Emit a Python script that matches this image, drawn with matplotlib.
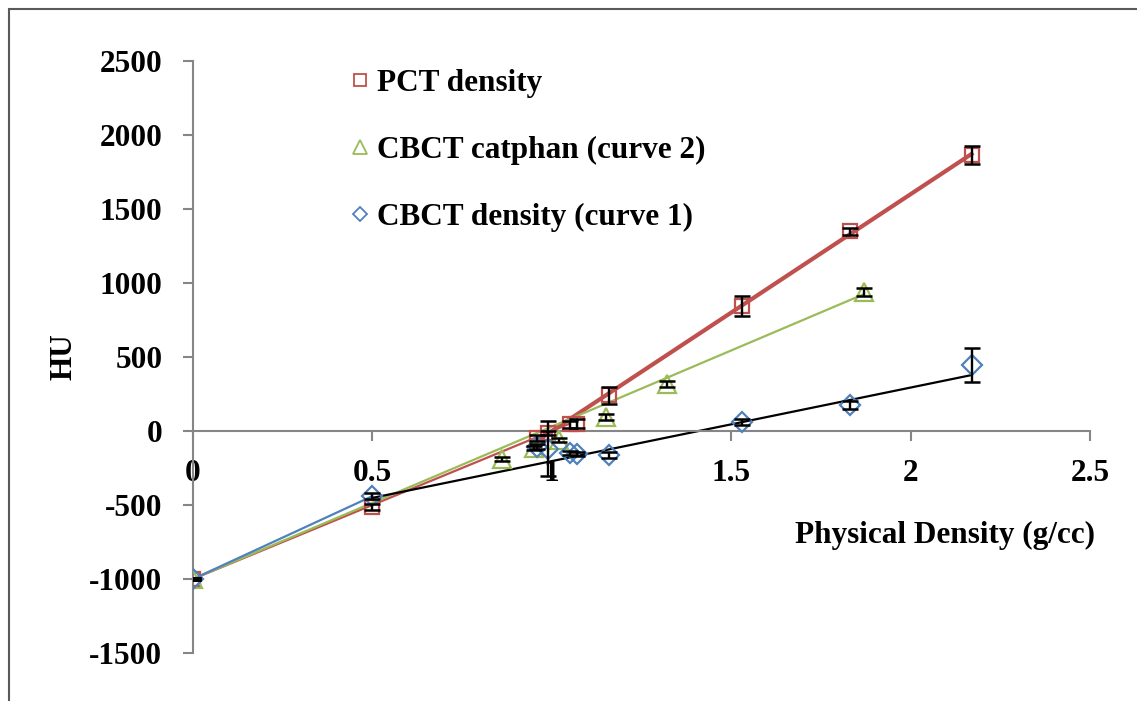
import matplotlib
matplotlib.use("Agg")
import matplotlib.pyplot as plt
from matplotlib.lines import Line2D
from matplotlib.patches import Rectangle

# ---------------- data ----------------
pct_x = [0.0, 0.50, 0.96, 0.99, 1.05, 1.07, 1.16, 1.53, 1.83, 2.17]
pct_y = [-1000, -515, -45, -15, 45, 50, 240, 845, 1350, 1865]
pct_err = [10, 20, 20, 15, 25, 30, 55, 65, 25, 60]

cat_x = [0.0, 0.86, 0.95, 1.02, 1.15, 1.32, 1.87]
cat_y = [-1000, -190, -115, -60, 95, 320, 940]
cat_err = [8, 15, 15, 15, 20, 20, 25]

cbd_x = [0.0, 0.50, 0.96, 0.99, 1.05, 1.07, 1.16, 1.53, 1.83, 2.17]
cbd_y = [-1000, -440, -105, -120, -150, -155, -162, 63, 175, 446]
cbd_err = [8, 20, 15, 185, 15, 15, 20, 20, 25, 115]

# trend lines (end points)
pct_fit_low_x = [0.0, 1.05]
pct_fit_low_y = [-1000, 50]
pct_fit_high_x = [0.96, 2.17]
pct_fit_high_y = [-64, 1872]
cat_fit_x = [0.0, 1.87]
cat_fit_y = [-1000, 925]
cbd_fit_low_x = [0.0, 0.50]
cbd_fit_low_y = [-1000, -440]
cbd_fit_high_x = [0.50, 2.17]
cbd_fit_high_y = [-452, 378]

labels = ["PCT density", "CBCT catphan (curve 2)", "CBCT density (curve 1)"]
x_ticks = [0, 0.5, 1, 1.5, 2, 2.5]
x_tick_labels = ["0", "0.5", "1", "1.5", "2", "2.5"]
y_ticks = [-1500, -1000, -500, 0, 500, 1000, 1500, 2000, 2500]

# ---------------- style ----------------
RED = "#C0504D"
GREEN = "#9BBB59"
BLUE = "#4F81BD"
GRAY = "#868686"
FONT = "Liberation Serif"
FS = 22.5

plt.rcParams["font.family"] = FONT
plt.rcParams["font.weight"] = "bold"
plt.rcParams["axes.unicode_minus"] = False

W, H = 1137, 701
fig = plt.figure(figsize=(W / 100, H / 100), dpi=100)
ax = fig.add_axes([193 / W, (H - 653) / H, 897 / W, 592 / H])
ax.set_xlim(0, 2.5)
ax.set_ylim(-1500, 2500)

# figure border
fig.patches.append(Rectangle((9 / W, -0.05), 1.2, (H - 9) / H + 0.05,
                             transform=fig.transFigure, fill=False,
                             edgecolor="#595959", linewidth=1.5))

# trend lines
ax.plot(pct_fit_low_x, pct_fit_low_y, color=RED, lw=1.6, zorder=2)
ax.plot(pct_fit_high_x, pct_fit_high_y, color=RED, lw=3.0, zorder=2)
ax.plot(cat_fit_x, cat_fit_y, color=GREEN, lw=1.6, zorder=2)
ax.plot(cbd_fit_low_x, cbd_fit_low_y, color=BLUE, lw=1.6, zorder=2)
ax.plot(cbd_fit_high_x, cbd_fit_high_y, color="black", lw=1.6, zorder=2)

# markers with error bars
mk = dict(fillstyle="none", markeredgewidth=1.6, linestyle="none", zorder=3)
ax.plot(pct_x, pct_y, marker="s", markersize=10.5, color=RED, **mk)
ax.plot(cat_x, cat_y, marker="^", markersize=12.5, color=GREEN, **mk)
ax.plot(cbd_x, cbd_y, marker="D", markersize=10, color=BLUE, **mk)
eb = dict(fmt="none", ecolor="black", elinewidth=1.7, capsize=6,
          capthick=1.8, zorder=4)
ax.errorbar(pct_x, pct_y, yerr=pct_err, **eb)
ax.errorbar(cat_x, cat_y, yerr=cat_err, **eb)
ax.errorbar(cbd_x, cbd_y, yerr=cbd_err, **eb)

# axes styling
for s in ["top", "right"]:
    ax.spines[s].set_visible(False)
ax.spines["left"].set_color(GRAY)
ax.spines["left"].set_linewidth(1.5)
ax.spines["bottom"].set_position(("data", 0))
ax.spines["bottom"].set_color(GRAY)
ax.spines["bottom"].set_linewidth(1.5)
ax.set_xticks(x_ticks)
ax.set_xticklabels(x_tick_labels)
ax.set_yticks(y_ticks)
ax.tick_params(axis="both", colors=GRAY, width=1.5, length=7,
               direction="out", labelsize=FS, labelcolor="black")
ax.tick_params(axis="y", pad=15)
ax.tick_params(axis="x", pad=13)
for t in ax.get_xticklabels() + ax.get_yticklabels():
    t.set_fontweight("bold")

ax.set_ylabel("HU", fontsize=FS, fontweight="bold")
ax.yaxis.set_label_coords((64 - 193) / 897, 0.5)
ax.yaxis.label.set_va("center")
ax.set_xlabel("Physical Density (g/cc)", fontsize=FS, fontweight="bold")
ax.xaxis.set_label_coords((945 - 193) / 897, (653 - 535) / 592)
ax.xaxis.label.set_va("center")

# legend
handles = [
    Line2D([], [], marker="s", color=RED, fillstyle="none", linestyle="none",
           markersize=8.5, markeredgewidth=1.3),
    Line2D([], [], marker="^", color=GREEN, fillstyle="none", linestyle="none",
           markersize=9.5, markeredgewidth=1.3),
    Line2D([], [], marker="D", color=BLUE, fillstyle="none", linestyle="none",
           markersize=7.5, markeredgewidth=1.3),
]
leg = ax.legend(handles, labels, loc="upper left",
                bbox_to_anchor=(349 / W, (H - 69) / H),
                bbox_transform=fig.transFigure, frameon=False,
                prop={"family": FONT, "weight": "bold", "size": FS},
                handlelength=0.7, handletextpad=0.2, labelspacing=1.22,
                borderpad=0, borderaxespad=0)

fig.savefig("out.png", dpi=100)
